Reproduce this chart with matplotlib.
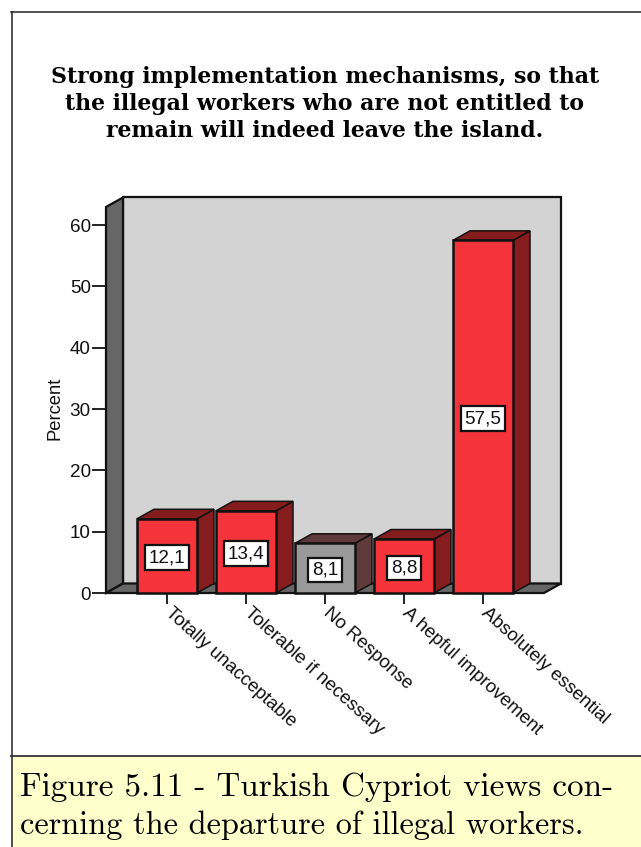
import matplotlib
matplotlib.use("Agg")
import matplotlib.pyplot as plt
from matplotlib.patches import Polygon, Rectangle

categories = ["Totally unacceptable", "Tolerable if necessary", "No Response",
              "A hepful improvement", "Absolutely essential"]
values = [12.1, 13.4, 8.1, 8.8, 57.5]
value_labels = ["12,1", "13,4", "8,1", "8,8", "57,5"]
face_colors = ["#f4333a", "#f4333a", "#999999", "#f4333a", "#f4333a"]
side_colors = ["#851c1e", "#851c1e", "#5f3a3a", "#851c1e", "#851c1e"]
y_ticks = [0, 10, 20, 30, 40, 50, 60]
title_lines = "Strong implementation mechanisms, so that\nthe illegal workers who are not entitled to\nremain will indeed leave the island."
caption_lines = ["Figure 5.11 - Turkish Cypriot views con-", "cerning the departure of illegal workers."]

W, H = 641, 847
fig = plt.figure(figsize=(W / 100, H / 100), dpi=100, facecolor="white")

def fx(p): return p / W
def fy(p): return 1 - p / H

# page furniture
fig.add_artist(Rectangle((fx(11), fy(847)), fx(641 - 11), 90 / H, transform=fig.transFigure,
                         facecolor="#ffffcc", edgecolor="none"))
fig.add_artist(plt.Line2D([fx(11.5), fx(11.5)], [fy(12), fy(847)], color="#222222", lw=1.1))
fig.add_artist(plt.Line2D([fx(11), 1], [fy(12), fy(12)], color="#222222", lw=1.1))
fig.add_artist(plt.Line2D([fx(11), 1], [fy(755.5), fy(755.5)], color="#333333", lw=1.3))

fig.text(fx(325), fy(104), title_lines, family="DejaVu Serif", weight="bold", fontsize=15.8,
         ha="center", va="center", linespacing=1.31, color="black")
fig.text(fx(20), fy(787), caption_lines[0], family="cmr10", fontsize=23.85, ha="left", va="center")
fig.text(fx(20), fy(825), caption_lines[1], family="cmr10", fontsize=23.3, ha="left", va="center")

# main axes: front plane of the 3D box
x0, x1, ytop, ybot = 106, 544, 207, 593
ax = fig.add_axes([fx(x0), fy(ybot), (x1 - x0) / W, (ybot - ytop) / H])
ax.patch.set_alpha(0)
pitch = 79.0
xmin = (x0 - 167) / pitch
xmax = (x1 - 167) / pitch
ymax = (ybot - ytop) / 6.133
ax.set_xlim(xmin, xmax)
ax.set_ylim(0, ymax)
for s in ax.spines.values():
    s.set_visible(False)

dx = 17 / pitch
dy = 9.5 / 6.133
edge = "#111111"

def poly(pts, fc, z, lw=1.6):
    ax.add_patch(Polygon(pts, closed=True, facecolor=fc, edgecolor=edge, linewidth=lw,
                         joinstyle="miter", clip_on=False, zorder=z))

# back wall, left wall, floor
poly([(xmin + dx, dy), (xmax + dx, dy), (xmax + dx, ymax + dy), (xmin + dx, ymax + dy)], "#d3d3d3", 1)
poly([(xmin, 0), (xmin + dx, dy), (xmin + dx, ymax + dy), (xmin, ymax)], "#666666", 1.1)
poly([(xmin, 0), (xmax, 0), (xmax + dx, dy), (xmin + dx, dy)], "#666666", 1.2)

# bars
half = 30 / pitch
for i, (v, fc, sc, lab) in enumerate(zip(values, face_colors, side_colors, value_labels)):
    z = 2 + i * 0.1
    poly([(i + half, 0), (i + half + dx, dy), (i + half + dx, v + dy), (i + half, v)], sc, z, 1.1)
    poly([(i - half, v), (i + half, v), (i + half + dx, v + dy), (i - half + dx, v + dy)], sc, z, 1.1)
    ax.bar(i, v, width=2 * half, color=fc, edgecolor=edge, linewidth=1.8, zorder=z + 0.05, clip_on=False)
    ax.text(i, v / 2 - 0.3, lab, ha="center", va="center", fontsize=13.6, family="Liberation Sans",
            color="#111111", zorder=5,
            bbox=dict(boxstyle="square,pad=0.2", facecolor="white", edgecolor=edge, linewidth=1.6))

ax.set_yticks(y_ticks)
ax.set_xticks(range(len(categories)))
ax.set_xticklabels([])
ax.tick_params(axis="y", length=10, width=1.3, color="#111111", pad=1, labelsize=13.6,
               labelcolor="#111111")
ax.tick_params(axis="x", length=8, width=1.3, color="#111111", pad=0)
for t in ax.get_yticklabels():
    t.set_family("Liberation Sans")

for i, c in enumerate(categories):
    ax.annotate(c, xy=(i, 0), xytext=(4.4, -8), textcoords="offset points", rotation=-42,
                rotation_mode="anchor", ha="left", va="top", fontsize=13.5,
                family="Liberation Sans", color="#111111", annotation_clip=False)

fig.text(fx(55), fy(408), "Percent", rotation=90, family="Liberation Sans", fontsize=13.2,
         ha="center", va="center", color="#111111")

fig.savefig("out.png", dpi=100)
